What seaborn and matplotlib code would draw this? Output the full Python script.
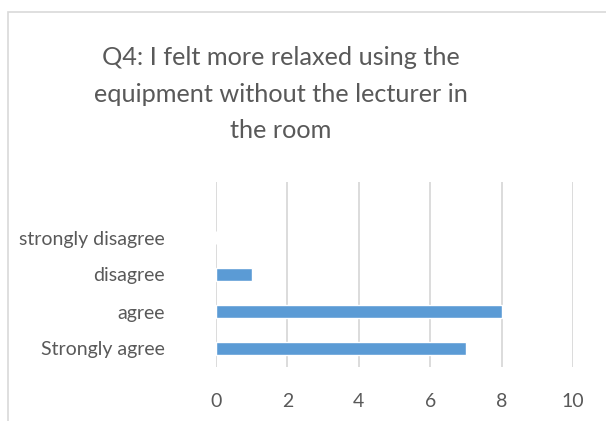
import matplotlib
matplotlib.use("Agg")
import matplotlib.pyplot as plt
import pandas as pd
import seaborn as sns
from matplotlib.patches import Rectangle

responses = ["strongly disagree", "disagree", "agree", "Strongly agree"]
counts = [0, 1, 8, 7]
x_ticks = [0, 2, 4, 6, 8, 10]
title = "Q4: I felt more relaxed using the\nequipment without the lecturer in\nthe room"

sns.set_theme(style="white")
plt.rcParams["font.family"] = ["Lato", "DejaVu Sans"]

text_color = "#595959"
grid_color = "#D9D9D9"
bar_color = "#5B9BD5"

df = pd.DataFrame({"response": responses, "count": counts})

fig = plt.figure(figsize=(6.06, 4.21), dpi=100)
fig.patch.set_facecolor("white")
ax = fig.add_axes([216 / 606, 1 - 367 / 421, (573 - 216) / 606, (367 - 182) / 421])

sns.barplot(data=df, x="count", y="response", order=responses, orient="h",
            color=bar_color, width=0.35, saturation=1, ax=ax)

ax.set_xlim(0, 10)
ax.set_ylim(3.5, -1.5)
ax.set_xticks(x_ticks)
ax.xaxis.grid(True, color=grid_color, linewidth=1.3)
ax.set_axisbelow(True)
for s in ax.spines.values():
    s.set_visible(False)
ax.tick_params(axis="x", length=0, pad=19, labelsize=14, labelcolor=text_color)
ax.tick_params(axis="y", length=0, pad=37, labelsize=14, labelcolor=text_color)
ax.set_xlabel("")
ax.set_ylabel("")

fig.text(281 / 606, 1 - 94 / 421, title, ha="center", va="center",
         fontsize=18.2, color=text_color, linespacing=1.72)

# chart frame (continues past the cropped right/bottom edges)
fig.patches.append(Rectangle((8 / 606, -0.1), 1.2, 1 - 12 / 421 + 0.1,
                             transform=fig.transFigure, fill=False,
                             edgecolor=grid_color, linewidth=1.2))

fig.savefig("out.png", dpi=100)
